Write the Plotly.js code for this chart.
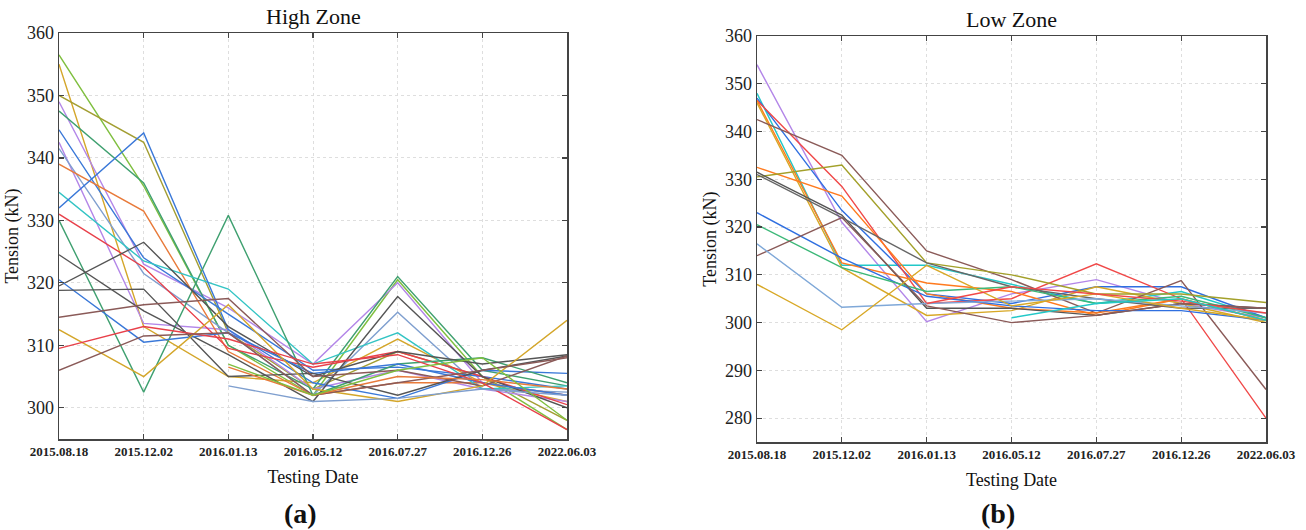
<!DOCTYPE html>
<html>
<head>
<meta charset="utf-8">
<script src="https://cdn.plot.ly/plotly-3.0.1.min.js"></script>
<style>html,body{margin:0;padding:0;background:#fff;}#chart{width:1306px;height:530px;}</style>
</head>
<body>
<div id="chart"></div>
<script>
const dates = ["2015.08.18","2015.12.02","2016.01.13","2016.05.12","2016.07.27","2016.12.26","2022.06.03"];

// High Zone series
const h01 = [356.5, 335.5, 310.0, 302.0, 320.5, 305.0, 296.5];
const h02 = [355.0, 313.0, 305.0, 304.0, 311.0, 304.0, 301.0];
const h03 = [350.0, 342.5, 312.0, 303.0, 309.0, 305.0, 298.0];
const h04 = [349.0, 323.0, 316.0, 307.0, 320.0, 304.0, 302.0];
const h05 = [347.5, 336.0, 310.0, 303.0, 321.0, 306.0, 303.5];
const h06 = [344.5, 324.0, 315.0, 306.0, 306.5, 305.0, 303.0];
const h07 = [342.5, 313.5, 312.5, 303.0, 306.0, 303.0, 301.0];
const h08 = [341.5, 321.5, 312.0, 302.0, 315.3, 303.0, 302.5];
const h09 = [339.0, 331.5, 309.0, 302.0, 304.0, 304.0, 302.0];
const h10 = [334.5, 323.5, 319.0, 307.0, 312.0, 303.0, 303.5];
const h11 = [332.0, 344.0, 312.5, 304.0, 301.5, 306.0, 305.5];
const h12 = [331.0, 322.5, 309.5, 306.5, 309.0, 305.0, 300.5];
const h13 = [330.0, 302.5, 330.8, 302.0, 307.0, 308.0, 304.0];
const h14 = [324.5, 315.5, 308.5, 301.0, 317.8, 305.0, 300.0];
const h15 = [319.5, 326.5, 313.0, 305.0, 309.0, 307.0, 308.5];
const h16 = [320.5, 310.5, 312.0, 305.5, 307.0, 304.0, 302.0];
const h17 = [318.8, 319.0, 305.0, 305.5, 302.0, 306.0, 308.3];
const h18 = [314.5, 316.5, 317.5, 305.0, 306.0, 303.5, 308.3];
const h19 = [312.5, 305.0, 316.5, 303.0, 301.0, 303.5, 314.0];
const h20 = [309.5, 313.0, 311.0, 307.0, 308.5, 304.0, 296.5];
const h21 = [306.0, 311.5, 312.0, 302.0, 304.0, 306.0, 308.0];
const h22 = [null, null, 303.5, 301.0, 301.5, 303.0, 302.0];
const h23 = [null, null, 306.5, 302.0, 305.0, 304.5, 303.0];
const h24 = [null, null, 307.0, 302.0, 306.0, 308.0, 298.0];
const highColors = ["#7fbf3f","#d4a62a","#a39e32","#b386e8","#3fa070","#3a78d8","#b386e8","#7f9fcf","#e87a3a","#33c4c4","#3a78d8","#e8404a","#3fa070","#555555","#555555","#3a78d8","#555555","#8a5a58","#d4a62a","#e8404a","#8a5a58","#7f9fcf","#e87a3a","#7fbf3f"];

// Low Zone series
const l01 = [354.0, 321.0, 300.2, 306.0, 309.0, 304.0, 301.0];
const l02 = [348.0, 312.0, 312.0, 308.0, 304.0, 306.5, 301.0];
const l03 = [347.0, 323.5, 306.0, 304.0, 307.5, 307.5, 301.0];
const l04 = [346.5, 328.5, 304.0, 305.0, 312.3, 305.0, 280.0];
const l05 = [346.5, 312.5, 308.3, 306.5, 301.5, 305.0, 300.5];
const l06 = [346.0, 311.5, 301.5, 302.5, 307.5, 304.0, 300.0];
const l07 = [342.5, 335.0, 315.0, 309.0, 302.0, 308.8, 286.0];
const l08 = [332.5, 326.5, 306.0, 303.0, 302.0, 305.0, 300.5];
const l09 = [330.5, 333.0, 312.5, 310.0, 306.0, 306.0, 304.2];
const l10 = [331.5, 322.5, 303.0, 303.0, 301.5, 304.0, 303.0];
const l11 = [331.0, 322.0, 312.5, 307.5, 305.0, 303.0, 303.0];
const l12 = [323.0, 313.5, 305.5, 303.5, 302.5, 302.5, 300.5];
const l13 = [320.5, 311.5, 306.5, 307.5, 304.0, 305.5, 301.0];
const l14 = [314.0, 322.0, 303.5, 300.0, 301.5, 304.0, 303.0];
const l15 = [316.5, 303.2, 304.0, 304.5, 305.0, 303.5, 302.0];
const l16 = [308.0, 298.5, 312.0, 303.5, 306.0, 303.0, 300.5];
const l17 = [null, null, 304.0, 307.5, 306.0, 304.5, 302.0];
const l18 = [null, null, null, 301.0, 304.0, 305.0, 300.5];
const lowColors = ["#b386e8","#22c8c8","#2f6fe0","#f04848","#ff7a1e","#d8a826","#8a5a58","#ff7a1e","#a3a02a","#555555","#666666","#2f6fe0","#3cb878","#8a5a58","#7fa8d8","#d8a826","#f04848","#22c8c8"];

const highSeries = [h01,h02,h03,h04,h05,h06,h07,h08,h09,h10,h11,h12,h13,h14,h15,h16,h17,h18,h19,h20,h21,h22,h23,h24];
const lowSeries = [l01,l02,l03,l04,l05,l06,l07,l08,l09,l10,l11,l12,l13,l14,l15,l16,l17,l18];

const traces = [];
highSeries.forEach((s, i) => traces.push({x: dates, y: s, type: 'scatter', mode: 'lines', xaxis: 'x', yaxis: 'y', line: {color: highColors[i], width: 1.4}, showlegend: false, hoverinfo: 'y'}));
lowSeries.forEach((s, i) => traces.push({x: dates, y: s, type: 'scatter', mode: 'lines', xaxis: 'x2', yaxis: 'y2', line: {color: lowColors[i], width: 1.4}, showlegend: false, hoverinfo: 'y'}));

const serif = "Liberation Serif";
function xa(dom, anchor) {
  return {domain: dom, anchor: anchor, type: 'category', range: [0, 6], showline: true, mirror: 'ticks', linecolor: '#444', linewidth: 1.5,
    ticks: 'inside', ticklen: 5, tickcolor: '#444', tickwidth: 1.2, showgrid: true, gridcolor: '#dedede', griddash: 'dot', gridwidth: 1,
    tickfont: {family: serif, size: 13, color: '#222', weight: 'bold'}, zeroline: false,
    title: {text: 'Testing Date', font: {family: serif, size: 18, color: '#111'}, standoff: 12}};
}
function ya(dom, anchor, range) {
  return {domain: dom, anchor: anchor, range: range, dtick: 10, tick0: 0, showline: true, mirror: 'ticks', linecolor: '#444', linewidth: 1.5,
    ticks: 'inside', ticklen: 5, tickcolor: '#444', tickwidth: 1.2, showgrid: true, gridcolor: '#dedede', griddash: 'dot', gridwidth: 1,
    tickfont: {family: serif, size: 18, color: '#222'}, zeroline: false,
    title: {text: 'Tension (kN)', font: {family: serif, size: 18, color: '#111'}, standoff: 3}};
}

const layout = {
  width: 1306, height: 530, margin: {l: 0, r: 0, t: 0, b: 0}, paper_bgcolor: '#fff', plot_bgcolor: '#fff',
  font: {family: serif, color: '#111'},
  xaxis: xa([59/1306, 567/1306], 'y'),
  yaxis: ya([1 - 439/530, 1 - 33/530], 'x', [295, 360]),
  xaxis2: xa([757/1306, 1266/1306], 'y2'),
  yaxis2: ya([1 - 442/530, 1 - 36/530], 'x2', [275, 360]),
  annotations: [
    {text: 'High Zone', xref: 'paper', yref: 'paper', x: 313/1306, y: 1 - 17/530, xanchor: 'center', yanchor: 'middle', showarrow: false, font: {family: serif, size: 22, color: '#111'}},
    {text: 'Low Zone', xref: 'paper', yref: 'paper', x: 1011/1306, y: 1 - 20/530, xanchor: 'center', yanchor: 'middle', showarrow: false, font: {family: serif, size: 22, color: '#111'}},
    {text: '<b>(a)</b>', xref: 'paper', yref: 'paper', x: 300/1306, y: 1 - 513/530, xanchor: 'center', yanchor: 'middle', showarrow: false, font: {family: serif, size: 28, color: '#111'}},
    {text: '<b>(b)</b>', xref: 'paper', yref: 'paper', x: 998/1306, y: 1 - 513/530, xanchor: 'center', yanchor: 'middle', showarrow: false, font: {family: serif, size: 28, color: '#111'}}
  ]
};

Plotly.newPlot('chart', traces, layout, {displayModeBar: false, staticPlot: true});
</script>
</body>
</html>
